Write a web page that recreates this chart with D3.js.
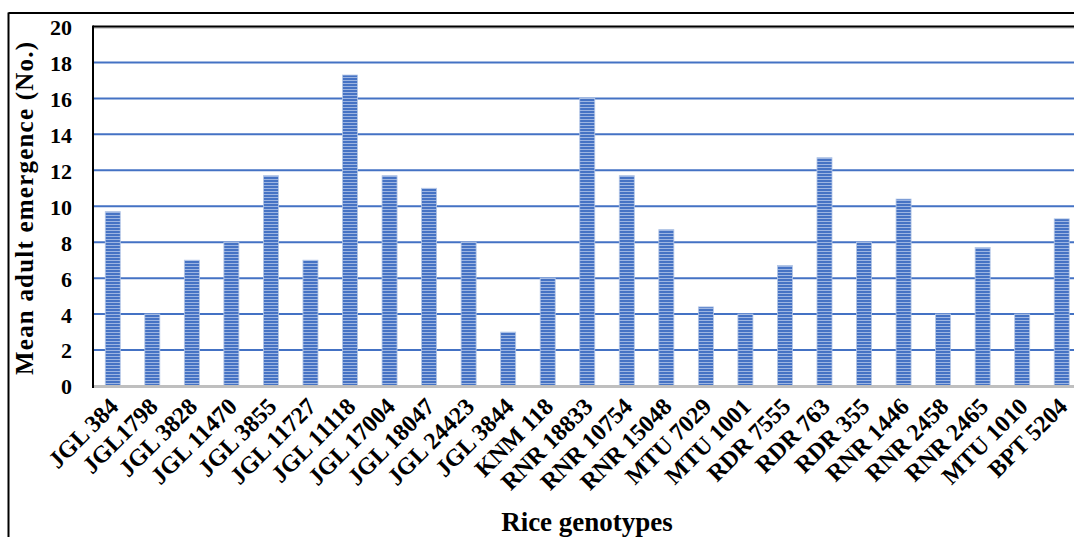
<!DOCTYPE html>
<html>
<head>
<meta charset="utf-8">
<script src="https://cdn.jsdelivr.net/npm/d3@7"></script>
<style>
  html, body { margin: 0; padding: 0; background: #fff; }
  svg { display: block; }
  text { font-family: "Liberation Serif", "Times New Roman", serif; font-weight: bold; fill: #000; }
</style>
</head>
<body>
<svg id="chart" width="1074" height="537"></svg>
<script>
const categories = ["JGL 384", "JGL1798", "JGL 3828", "JGL 11470", "JGL 3855", "JGL 11727", "JGL 11118",
  "JGL 17004", "JGL 18047", "JGL 24423", "JGL 3844", "KNM 118", "RNR 18833", "RNR 10754", "RNR 15048",
  "MTU 7029", "MTU 1001", "RDR 7555", "RDR 763", "RDR 355", "RNR 1446", "RNR 2458", "RNR 2465",
  "MTU 1010", "BPT 5204"];
const values = [9.7, 4.0, 7.0, 8.0, 11.7, 7.0, 17.3, 11.7, 11.0, 8.0, 3.0, 6.0, 16.0, 11.7, 8.7,
  4.4, 4.0, 6.7, 12.7, 8.0, 10.4, 4.0, 7.7, 4.0, 9.3];
const yTicks = [0, 2, 4, 6, 8, 10, 12, 14, 16, 18, 20];
const yTitle = "Mean adult  emergence (No.)";
const xTitle = "Rice genotypes";

(function () {
const svg = d3.select("#chart");
const pLeft = 93, pRight = 1081.5, pTop = 26.5, pBottom = 386;

const x = d3.scaleBand().domain(categories).range([pLeft, pRight]).paddingInner(0.62).paddingOuter(0.31);
const y = d3.scaleLinear().domain([0, 20]).range([pBottom, pTop]);

// pattern for bars
const defs = svg.append("defs");
const pat = defs.append("pattern").attr("id", "hstripe").attr("patternUnits", "userSpaceOnUse")
  .attr("width", 8).attr("height", 3);
pat.append("rect").attr("width", 8).attr("height", 3).attr("fill", "#4673c4");
pat.append("rect").attr("y", 2).attr("width", 8).attr("height", 1).attr("fill", "#9db5e2");

// outer frame (left + top)
svg.append("line").attr("x1", 8.5).attr("x2", 8.5).attr("y1", 12.5).attr("y2", 537)
  .attr("stroke", "#000").attr("stroke-width", 2);
svg.append("line").attr("x1", 8.5).attr("x2", 1074).attr("y1", 13).attr("y2", 13)
  .attr("stroke", "#000").attr("stroke-width", 2);

// gridlines
svg.append("g").selectAll("line").data(yTicks.filter(d => d > 0 && d < 20)).join("line")
  .attr("x1", pLeft).attr("x2", 1074)
  .attr("y1", d => y(d)).attr("y2", d => y(d))
  .attr("stroke", "#4472c4").attr("stroke-width", 2);

// bars
svg.append("g").selectAll("rect").data(values).join("rect")
  .attr("x", (d, i) => x(categories[i]))
  .attr("y", d => y(d))
  .attr("width", x.bandwidth())
  .attr("height", d => y(0) - y(d))
  .attr("fill", "url(#hstripe)")
  .attr("stroke", "#b4c7e7").attr("stroke-width", 0.8);

// plot top border
svg.append("line").attr("x1", pLeft).attr("x2", 1074).attr("y1", pTop + 1.5).attr("y2", pTop + 1.5)
  .attr("stroke", "#a6a6a6").attr("stroke-width", 1);
svg.append("line").attr("x1", pLeft).attr("x2", 1074).attr("y1", pTop).attr("y2", pTop)
  .attr("stroke", "#000").attr("stroke-width", 2);

// x axis line (gray)
svg.append("line").attr("x1", pLeft).attr("x2", 1074).attr("y1", pBottom + 0.5).attr("y2", pBottom + 0.5)
  .attr("stroke", "#bfbfbf").attr("stroke-width", 3);

// y axis line
svg.append("line").attr("x1", pLeft).attr("x2", pLeft).attr("y1", pTop - 1).attr("y2", pBottom + 2)
  .attr("stroke", "#000").attr("stroke-width", 2);

// y axis via d3.axisLeft (labels only)
const yAxis = svg.append("g").attr("transform", `translate(${pLeft},0)`)
  .call(d3.axisLeft(y).tickValues(yTicks).tickSize(0).tickPadding(21));
yAxis.select(".domain").remove();
yAxis.selectAll("text").attr("font-size", 22).attr("font-family", "Liberation Serif, Times New Roman, serif")
  .attr("font-weight", "bold").attr("fill", "#000").attr("dy", "0.36em");

// x axis labels via d3.axisBottom
const xAxis = svg.append("g").attr("transform", `translate(0,${pBottom})`)
  .call(d3.axisBottom(x).tickSize(0).tickPadding(0));
xAxis.select(".domain").remove();
xAxis.selectAll("text")
  .attr("font-size", 24).attr("font-family", "Liberation Serif, Times New Roman, serif")
  .attr("font-weight", "bold").attr("fill", "#000")
  .attr("text-anchor", "end")
  .attr("dy", 0).attr("y", 0)
  .attr("transform", "translate(7,22) rotate(-45)");

// axis titles
svg.append("text").attr("x", 587).attr("y", 531).attr("text-anchor", "middle")
  .attr("font-size", 27).text(xTitle);
svg.append("text").attr("transform", "translate(33,208.5) rotate(-90)")
  .attr("text-anchor", "middle").attr("font-size", 25)
  .attr("textLength", 333).attr("lengthAdjust", "spacing")
  .text(yTitle);
})();
</script>
</body>
</html>
